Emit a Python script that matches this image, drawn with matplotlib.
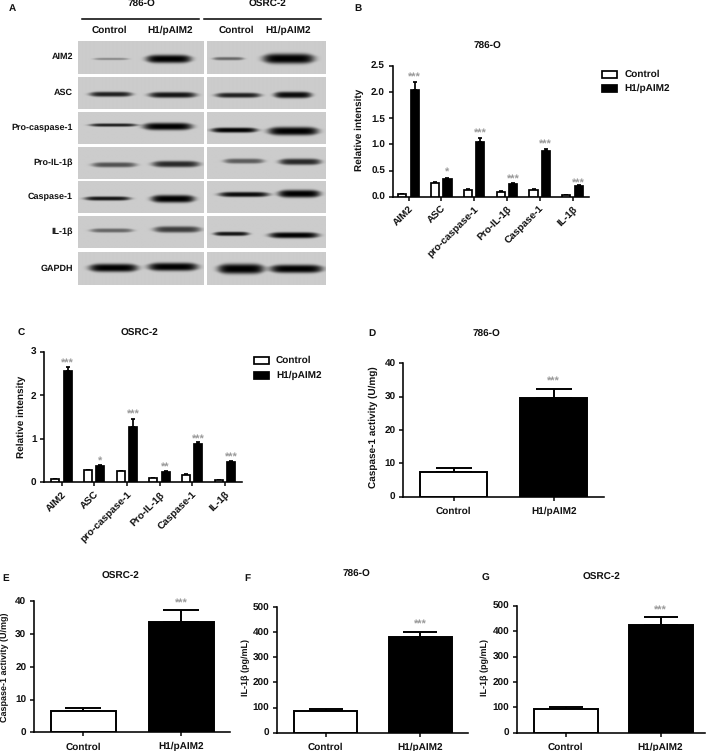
import matplotlib
matplotlib.use("Agg")
from matplotlib import pyplot as plt
from matplotlib.patches import Rectangle
import numpy as np

W, H = 709, 751
plt.rcParams['font.family'] = ['Liberation Sans', 'DejaVu Sans']
plt.rcParams['font.weight'] = 'bold'
plt.rcParams['text.hinting'] = 'no_hinting'
plt.rcParams['text.hinting_factor'] = 1

# panel A blots, band strength per row, read by eye
proteins = ['AIM2', 'ASC', 'Pro-caspase-1', 'Pro-IL-1β', 'Caspase-1', 'IL-1β', 'GAPDH']
blot_786_control = [0.35, 0.85, 0.85, 0.6, 0.9, 0.5, 1.0]
blot_786_h1 = [1.0, 0.9, 1.0, 0.8, 1.0, 0.7, 1.0]
blot_osrc_control = [0.5, 0.85, 1.0, 0.55, 0.95, 0.9, 1.0]
blot_osrc_h1 = [1.0, 0.95, 1.0, 0.8, 1.0, 1.0, 1.0]

# panels B and C
groups = ['AIM2', 'ASC', 'pro-caspase-1', 'Pro-IL-1β', 'Caspase-1', 'IL-1β']
b_control = [0.05, 0.26, 0.13, 0.09, 0.13, 0.03]
b_control_err = [0.01, 0.02, 0.01, 0.01, 0.01, 0.005]
b_h1 = [2.03, 0.34, 1.05, 0.25, 0.88, 0.21]
b_h1_err = [0.15, 0.02, 0.07, 0.01, 0.03, 0.01]
b_stars = ['***', '*', '***', '***', '***', '***']
b_star_y = [2.32, 0.52, 1.26, 0.38, 1.04, 0.31]

c_control = [0.07, 0.28, 0.25, 0.10, 0.17, 0.05]
c_control_err = [0.01, 0.01, 0.01, 0.01, 0.01, 0.01]
c_h1 = [2.56, 0.37, 1.28, 0.24, 0.87, 0.46]
c_h1_err = [0.10, 0.02, 0.17, 0.02, 0.06, 0.02]
c_stars = ['***', '*', '***', '**', '***', '***']
c_star_y = [2.79, 0.55, 1.61, 0.41, 1.05, 0.62]

# panels D to G: control, H1/pAIM2
pair_labels = ['Control', 'H1/pAIM2']
d_vals, d_err, d_star = [7.5, 29.5], [1.0, 2.8], 35.2
e_vals, e_err, e_star = [6.5, 33.8], [1.0, 3.6], 40.0
f_vals, f_err, f_star = [88, 382], [7, 18], 440
g_vals, g_err, g_star = [95, 423], [6, 32], 492

fig = plt.figure(figsize=(W / 100, H / 100), dpi=100, facecolor='white')
bg = fig.add_axes([0, 0, 1, 1])
bg.set_xlim(0, W)
bg.set_ylim(H, 0)
bg.axis('off')


def add_axes_px(x0, x1, ytop, ybottom):
    return fig.add_axes([x0 / W, 1 - ybottom / H, (x1 - x0) / W, (ybottom - ytop) / H])


def label(x, y, s, size=7.1, **kw):
    kw.setdefault('ha', 'center')
    kw.setdefault('va', 'center')
    bg.text(x, y, s, fontsize=size, color='#111111', fontweight='bold', **kw)


def stars_at(ax, x, y, s):
    ax.annotate(s, (x, y), xytext=(0, -2), textcoords='offset points', color='#999999', fontsize=7.8,
                ha='center', va='center', annotation_clip=False)


def style_axes(ax, ymax, yticks, yfmt, lw):
    ax.spines['top'].set_visible(False)
    ax.spines['right'].set_visible(False)
    ax.spines['left'].set_linewidth(lw)
    ax.spines['bottom'].set_linewidth(lw)
    ax.set_ylim(0, ymax)
    ax.set_yticks(yticks)
    ax.set_yticklabels([yfmt % t for t in yticks], fontsize=7)
    ax.tick_params(width=lw, length=3.1, pad=2.4, colors='#111111')
    ax.patch.set_alpha(0)


def w_cap(ax, w):
    # cap half width in points, about a quarter of the bar width
    x0, x1 = ax.get_xlim()
    px = ax.get_position().width * W / (x1 - x0)
    return w * px * 0.27 * 0.72


def draw_bar(ax, x, v, e, w, face, lw):
    ax.bar(x, v, w, color=face, edgecolor='black', linewidth=lw, zorder=3)
    ax.errorbar(x, v, yerr=[[0], [e]], color='black', elinewidth=lw, capsize=w_cap(ax, w),
                capthick=lw, zorder=2, clip_on=False)


def grouped(ax_px, first_px, step_px, control, control_err, h1, h1_err, stars, star_y, ymax, yticks, yfmt):
    x0, x1, ytop, ybottom = ax_px
    ax = add_axes_px(x0, x1, ytop, ybottom)
    ax.set_xlim((x0 - first_px) / step_px, (x1 - first_px) / step_px)
    x = np.arange(len(groups))
    width = 8.2 / step_px
    off = 6.15 / step_px
    for i in x:
        draw_bar(ax, i - off, control[i], control_err[i], width, 'white', 1.25)
        draw_bar(ax, i + off, h1[i], h1_err[i], width, 'black', 1.25)
        stars_at(ax, i + off, star_y[i], stars[i])
    style_axes(ax, ymax, yticks, yfmt, 1.15)
    ax.set_xticks(x)
    ax.set_xticklabels(groups, rotation=45, ha='right', va='top', rotation_mode='anchor', fontsize=7.4)
    return ax


def paired(ax_px, c0, c1, w_px, vals, errs, star, ymax, yticks):
    x0, x1, ytop, ybottom = ax_px
    ax = add_axes_px(x0, x1, ytop, ybottom)
    step = c1 - c0
    ax.set_xlim((x0 - c0) / step, (x1 - c0) / step)
    width = w_px / step
    draw_bar(ax, 0, vals[0], errs[0], width, 'white', 1.4)
    draw_bar(ax, 1, vals[1], errs[1], width, 'black', 1.4)
    stars_at(ax, 1, star, '***')
    style_axes(ax, ymax, yticks, '%d', 1.15)
    ax.set_xticks([0, 1])
    ax.set_xticklabels(pair_labels, fontsize=7.1)
    ax.tick_params(axis='x', pad=4)
    return ax


# ---- panel A
row_top = [41.3, 77.3, 112.7, 147.7, 182, 217, 252.7]
row_bottom = [74, 109.3, 144, 179, 213.3, 248.3, 285.3]
left_x = (78, 203.3)
right_x = (206.7, 325)
band_y_left = [[59, 59], [94.3, 95], [125.3, 126.7], [165, 164.3], [199, 199.3], [231, 230], [268.3, 267.3]]
band_y_right = [[58.7, 58.7], [95.3, 95], [130.3, 131.3], [161.3, 162], [195, 194.3], [234.3, 235.7], [269.3, 269.3]]
band_x_left = [[(93.3, 128.3), (145.7, 190.7)], [(89.3, 131.7), (148.3, 195.7)], [(89.3, 136.7), (142.7, 191.7)],
               [(91.7, 136), (151.7, 199)], [(84.3, 130), (150.7, 194)], [(90, 132.7), (153.3, 200)],
               [(89, 137.3), (147.7, 197.3)]]
band_x_right = [[(212.3, 243.3), (262.3, 313.3)], [(215, 260), (273.3, 310.7)], [(210.7, 256.7), (267.3, 317.3)],
                [(223.3, 263.3), (278.3, 320)], [(218.3, 268.3), (277.3, 319.3)], [(213.3, 248.3), (268.3, 317.7)],
                [(217.3, 263.3), (269.3, 321.7)]]
band_h_left = [[1.8, 6.5], [4, 4.6], [2.6, 5.8], [4, 5], [3.3, 6], [3.3, 5], [6.5, 6.5]]
band_h_right = [[2.6, 8], [4, 5.2], [4, 6.6], [4, 5], [4, 6], [3.3, 4.7], [8, 6.6]]


def blot_panel(x_rng, top, bottom, xs, ys, hs, strengths):
    px = np.arange(x_rng[0], x_rng[1], 0.5)
    py = np.arange(top, bottom, 0.5)
    gx, gy = np.meshgrid(px, py)
    img = np.full(gx.shape, 0.8)
    for (xa, xb), yc, h, s in zip(xs, ys, hs, strengths):
        mid, half = (xa + xb) / 2, (xb - xa) / 2
        along = np.exp(-np.abs((gx - mid) / half) ** 6)
        thick = h * 0.62 * (0.55 + 0.45 * along)
        across = np.exp(-np.abs((gy - yc) / thick) ** 3)
        img -= 0.8 * s * along * across
    bg.imshow(np.clip(img, 0, 1), cmap='gray', vmin=0, vmax=1, extent=(x_rng[0], x_rng[1], bottom, top),
              aspect='auto', interpolation='bilinear', zorder=1)


for r, name in enumerate(proteins):
    blot_panel(left_x, row_top[r], row_bottom[r], band_x_left[r], band_y_left[r], band_h_left[r],
               [blot_786_control[r], blot_786_h1[r]])
    blot_panel(right_x, row_top[r], row_bottom[r], band_x_right[r], band_y_right[r], band_h_right[r],
               [blot_osrc_control[r], blot_osrc_h1[r]])
    label(73, (row_top[r] + row_bottom[r]) / 2 - 0.5, name, ha='right', size=6.4)
bg.set_xlim(0, W)
bg.set_ylim(H, 0)

bg.plot([82, 199], [18.5, 18.5], color='black', lw=1.1)
bg.plot([204, 321], [18.5, 18.5], color='black', lw=1.1)
label(141, 4, '786-O')
label(267, 4, 'OSRC-2')
for cx, name in zip([109.5, 170.5, 236, 288], ['Control', 'H1/pAIM2', 'Control', 'H1/pAIM2']):
    label(cx, 30, name)

# ---- panels B, C
grouped((392.7, 589.3, 65.7, 196.7), 408.5, 32.8, b_control, b_control_err, b_h1, b_h1_err, b_stars, b_star_y,
        2.5, [0, 0.5, 1.0, 1.5, 2.0, 2.5], '%.1f')
grouped((44.3, 241.7, 351.7, 482.3), 61.5, 32.67, c_control, c_control_err, c_h1, c_h1_err, c_stars, c_star_y,
        3, [0, 1, 2, 3], '%d')

# ---- panels D to G
paired((403.3, 604, 363.3, 496.7), 453.7, 553.8, 67, d_vals, d_err, d_star, 40, [0, 10, 20, 30, 40])
paired((34, 230, 601.3, 732.3), 83.3, 181, 65, e_vals, e_err, e_star, 40, [0, 10, 20, 30, 40])
paired((276.7, 468, 607, 732.7), 325.5, 420, 63, f_vals, f_err, f_star, 500, [0, 100, 200, 300, 400, 500])
paired((516.8, 705, 605.7, 732.7), 565.6, 660.5, 64, g_vals, g_err, g_star, 500, [0, 100, 200, 300, 400, 500])

# ---- legends
for sx, sy0, sy1, tx in [(602.3, 70.7, 85, 624.3), (254, 356.7, 371.7, 276)]:
    bg.add_patch(Rectangle((sx, sy0), 15, 6.8, facecolor='white', edgecolor='black', lw=1.25))
    bg.add_patch(Rectangle((sx, sy1), 15, 6.8, facecolor='black', edgecolor='black', lw=1.25))
    label(tx, sy0 + 3.4, 'Control', ha='left', size=7.2)
    label(tx, sy1 + 3.4, 'H1/pAIM2', ha='left', size=7.2)

# ---- titles and axis names
for x, y, s in [(487, 46.7, '786-O'), (139, 333, 'OSRC-2'), (486.7, 334.7, '786-O'),
                (120, 576, 'OSRC-2'), (356, 574, '786-O'), (601, 577, 'OSRC-2')]:
    label(x, y, s, size=7.2)
for x, y, s, sz in [(359, 130, 'Relative intensity', 7.2), (21, 417, 'Relative intensity', 7.2),
                    (373, 427, 'Caspase-1 activity (U/mg)', 6.9), (4.5, 667, 'Caspase-1 activity (U/mg)', 6.6),
                    (245.5, 668, 'IL-1β (pg/mL)', 6.5), (484.6, 667, 'IL-1β (pg/mL)', 6.5)]:
    label(x, y, s, size=sz, rotation=90)
for x, y, s in [(12, 8, 'A'), (358, 8, 'B'), (21, 333, 'C'), (372, 333, 'D'),
                (6, 578, 'E'), (247, 578, 'F'), (485, 578, 'G')]:
    label(x, y, s, size=7.5)

fig.savefig('out.png', dpi=100)
